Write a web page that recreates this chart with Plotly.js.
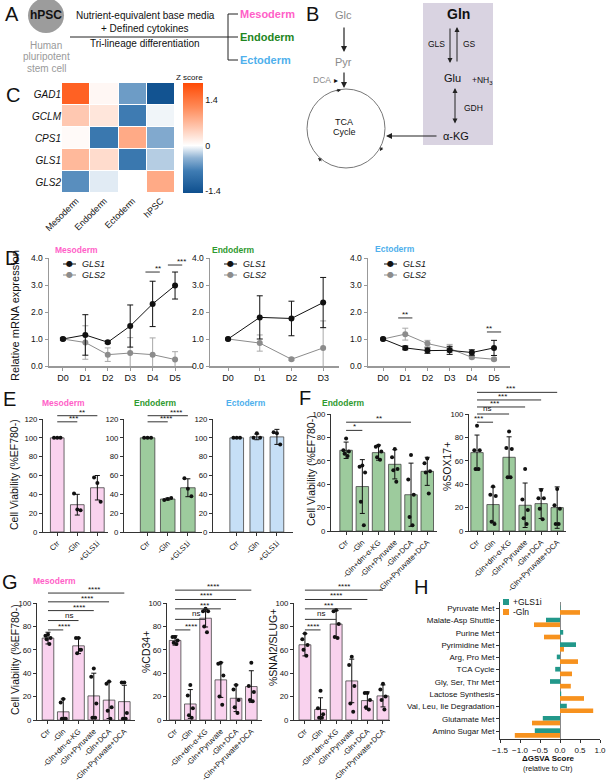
<!DOCTYPE html>
<html><head><meta charset="utf-8">
<script src="https://cdn.plot.ly/plotly-3.0.1.min.js"></script>
<style>html,body{margin:0;padding:0;background:#fff}#chart{width:609px;height:783px}</style>
</head><body><div id="chart"></div>
<script>
// ---------------- DATA ----------------
// Panel C heatmap
const hmGenes = ['GAD1','GCLM','CPS1','GLS1','GLS2'];
const hmCols = ['Mesoderm','Endoderm','Ectoderm','hPSC'];
const hmGAD1 = [1.65, 0.08, -0.55, -1.4];
const hmGCLM = [0.55, 0.25, -0.8, -0.05];
const hmCPS1 = [0.05, -0.85, 0.85, -0.45];
const hmGLS1 = [0.7, 0.35, -0.85, -0.25];
const hmGLS2 = [-0.65, -0.1, 0.0, 0.85];

// Panel D
const dDays = ['D0','D1','D2','D3','D4','D5'];
const dEndoDays = ['D0','D1','D2','D3'];
const mesoGLS1 = [1.0, 1.15, 0.88, 1.48, 2.3, 2.98];
const mesoGLS1err = [0.04, 0.75, 0.05, 0.78, 0.84, 0.5];
const mesoGLS2 = [1.0, 0.87, 0.42, 0.48, 0.42, 0.24];
const mesoGLS2err = [0.03, 0.62, 0.25, 0.57, 0.62, 0.29];
const endoGLS1 = [1.0, 1.8, 1.76, 2.35];
const endoGLS1err = [0.03, 0.8, 0.64, 0.93];
const endoGLS2 = [1.0, 0.85, 0.25, 0.67];
const endoGLS2err = [0.03, 0.3, 0.05, 1.0];
const ectoGLS1 = [1.0, 0.67, 0.57, 0.58, 0.5, 0.67];
const ectoGLS1err = [0.03, 0.07, 0.1, 0.15, 0.1, 0.28];
const ectoGLS2 = [1.0, 1.18, 0.83, 0.65, 0.32, 0.25];
const ectoGLS2err = [0.03, 0.22, 0.12, 0.15, 0.05, 0.05];

// Panel E
const eCats = ['Ctr','-Gln','+GLS1i'];
const eMesoMean = [100, 29, 47];
const eMesoSD = [0, 11, 13];
const eMesoDots = [[100,100,100],[41,24,23],[58,52,32]];
const eEndoMean = [100, 35, 47];
const eEndoSD = [0, 1, 9.5];
const eEndoDots = [[100,100,100],[34,35,36],[57,46,38]];
const eEctoMean = [100, 101, 101];
const eEctoSD = [0, 3, 8];
const eEctoDots = [[100,100,100],[100,105,100],[106,105,93]];

// Panel F
const fCats = ['Ctr','-Gln','-Gln+dm-α-KG','-Gln+Pyruvate','-Gln+DCA','-Gln+Pyruvate+DCA'];
const fViaMean = [69, 38, 67, 57, 31, 51];
const fViaSD = [7, 23, 6.5, 12.5, 27, 12];
const fViaDots = [[79,69,68,66,64],[56,55,50,25,5],[73,72,68,63,61],[70,63,53,52,42],[65,44,31,12,5],[62,58,51,50,32]];
const fSoxMean = [67, 22.6, 63, 22, 23.4, 20];
const fSoxSD = [15, 15, 17.5, 19, 12.7, 17.7];
const fSoxDots = [[90,69,69,53,53],[38,31,30,8,6],[85,71,70,46,46],[53,27,18,11,6],[35,28,28,19,10],[36,22,19,6,6]];

// Panel G
const gCats = fCats;
const gViaMean = [70, 7, 63.4, 20.6, 17, 15.7];
const gViaSD = [5, 11, 6.7, 19.4, 15.7, 14];
const gViaDots = [[73,72,70,69,65],[18,15,1,1,1],[70,70,60,57,60],[44,37,14,2,2],[33,31,11,8,1],[32,32,6,1,1]];
const gCD34Mean = [68, 13.7, 87, 34.3, 18.6, 28.6];
const gCD34SD = [4, 12.3, 7.5, 15, 11.4, 13.5];
const gCD34Dots = [[71,71,68,66,65],[30,21,10,4,2],[95,93,93,80,75],[49,48,38,20,13],[30,26,17,11,6],[49,29,24,17,16]];
const gSnaiMean = [64.3, 9, 82, 33.4, 16.6, 20.6];
const gSnaiSD = [9.5, 10, 11.5, 18.6, 7.4, 9.4];
const gSnaiDots = [[74,69,64,60,55],[25,10,5,2,2],[94,93,82,71,70],[54,47,29,14,7],[23,23,17,11,9],[31,26,20,17,9]];

// Significance brackets: [toIndex, level, label]
const sigE1 = [[1,117,'***'],[2,123.5,'**']];
const sigE2 = [[1,117,'****'],[2,123.5,'****']];
const sigF1 = [[1,86,'*'],[4,93,'**']];
const sigF2 = [[1,93,'***'],[2,100,'ns'],[3,106,'***'],[4,112,'***'],[5,118.5,'***']];
const sigG1 = [[1,77,'****'],[2,85,'ns'],[3,93.5,'****'],[4,101,'****'],[5,108.5,'****']];
const sigG2 = [[1,77,'****'],[2,86,'ns'],[3,95,'***'],[4,103,'****'],[5,111,'****']];
const sigG3 = [[1,77,'****'],[2,86,'ns'],[3,95,'***'],[4,103,'****'],[5,111,'****']];
const sigDMeso = [[4,3.48,'**'],[5,3.74,'***']];
const sigDEcto = [[1,1.78,'**'],[5,1.26,'**']];

// Panel H
const hCats = ['Pyruvate Met','Malate-Asp Shuttle','Purine Met','Pyrimidine Met','Arg, Pro Met','TCA Cycle','Gly, Ser, Thr Met','Lactose Synthesis','Val, Leu, Ile Degradation','Glutamate Met','Amino Sugar Met'];
const hGLS1i = [0.01, -0.35, 0.08, 0.4, -0.08, -0.12, -0.25, 0.03, 0.17, -0.43, -0.63];
const hGln = [0.5, -0.65, -0.4, 0.1, 0.45, 0.3, 0.27, 0.6, 0.83, -0.7, -1.13];

// ---------------- BUILD ----------------
const W = 609, H = 783;
const FONT = 'Liberation Sans, Arial, sans-serif';
const PINK_T = '#FF5FC8', GREEN_T = '#2F9A2F', BLUE_T = '#4FB0EC';
const PINK = '#F9D2EE', GREEN = '#9DCB9D', BLUE = '#C6DFF6';
const TEAL = '#22988A', ORANGE = '#F7921E';

const layout = {
  width: W, height: H, margin: {l:0, r:0, t:0, b:0},
  paper_bgcolor: '#fff', plot_bgcolor: 'rgba(0,0,0,0)',
  showlegend: false, barmode: 'group', bargap: 0.2, bargroupgap: 0,
  font: {family: FONT, size: 9, color: '#111'},
  shapes: [], annotations: []
};
const traces = [];
const AX = {};

function axes(n, xpx, ypx, xr, yr, xo, yo) {
  const s = n === 1 ? '' : String(n);
  layout['xaxis' + s] = Object.assign({domain: [xpx[0]/W, xpx[1]/W], range: xr, anchor: 'y' + s,
    showgrid: false, zeroline: false, fixedrange: true}, xo || {});
  layout['yaxis' + s] = Object.assign({domain: [1 - ypx[1]/H, 1 - ypx[0]/H], range: yr, anchor: 'x' + s,
    showgrid: false, zeroline: false, fixedrange: true}, yo || {});
  AX[n] = {xpx, ypx, xr, yr};
  return {x: 'x' + s, y: 'y' + s};
}
function P(n, xv, yv) {
  const a = AX[n];
  const px = a.xpx[0] + (xv - a.xr[0]) / (a.xr[1] - a.xr[0]) * (a.xpx[1] - a.xpx[0]);
  const py = a.ypx[1] - (yv - a.yr[0]) / (a.yr[1] - a.yr[0]) * (a.ypx[1] - a.ypx[0]);
  return {x: px / W, y: 1 - py / H};
}
function txt(x, y, t, o) {
  layout.annotations.push(Object.assign({xref: 'paper', yref: 'paper', x: x / W, y: 1 - y / H, text: t,
    showarrow: false, xanchor: 'center', yanchor: 'middle', font: {size: 9, color: '#111', family: FONT}}, o || {}));
}
function line(x0, y0, x1, y1, color, w) {
  layout.shapes.push({type: 'line', xref: 'paper', yref: 'paper', x0: x0 / W, x1: x1 / W, y0: 1 - y0 / H, y1: 1 - y1 / H,
    line: {color: color || '#222', width: w || 1}});
}
function arrow(hx, hy, ax, ay, o) {
  layout.annotations.push(Object.assign({xref: 'paper', yref: 'paper', x: hx / W, y: 1 - hy / H, ax: ax, ay: ay,
    text: '', showarrow: true, arrowhead: 2, arrowsize: 1, arrowwidth: 1.2, arrowcolor: '#222'}, o || {}));
}
function sig(n, list, base) {
  list.forEach(([to, lv, lab]) => {
    const a = P(n, base, lv), b = P(n, to, lv);
    layout.shapes.push({type: 'line', xref: 'paper', yref: 'paper', x0: a.x, x1: b.x, y0: a.y, y1: a.y,
      line: {color: '#333', width: 1}});
    layout.annotations.push({xref: 'paper', yref: 'paper', x: (a.x + b.x) / 2, y: a.y, text: lab, showarrow: false,
      yanchor: 'bottom', yshift: lab === 'ns' ? -1 : -3, font: {size: 8, color: '#111', family: FONT}});
  });
}
function sigShort(n, list) {
  list.forEach(([at, lv, lab]) => {
    const a = P(n, at - 0.32, lv), b = P(n, at + 0.32, lv);
    layout.shapes.push({type: 'line', xref: 'paper', yref: 'paper', x0: a.x, x1: b.x, y0: a.y, y1: a.y,
      line: {color: '#333', width: 1}});
    layout.annotations.push({xref: 'paper', yref: 'paper', x: (a.x + b.x) / 2, y: a.y, text: lab, showarrow: false,
      yanchor: 'bottom', yshift: -3, font: {size: 8, color: '#111', family: FONT}});
  });
}
const idx = arr => arr.map((_, i) => i);
function jit(k) {
  if (k === 3) return [-0.24, 0, 0.24];
  if (k === 4) return [-0.22, 0.22, -0.08, 0.08];
  return [0, -0.22, 0.22, -0.12, 0.12];
}

const barX = cats => ({showline: true, linecolor: '#333', linewidth: 1, ticks: 'outside', ticklen: 3, tickwidth: 1,
  tickcolor: '#333', tickangle: -45, tickvals: idx(cats), ticktext: cats, tickfont: {size: 7.6}});
const barY = step => ({showline: true, linecolor: '#333', linewidth: 1, ticks: 'outside', ticklen: 3, tickwidth: 1,
  tickcolor: '#333', tickmode: 'linear', tick0: 0, dtick: step, tickfont: {size: 7.8}});

function barChart(a, cats, mean, sd, dots, color, bw) {
  traces.push({type: 'bar', x: idx(cats), y: mean, xaxis: a.x, yaxis: a.y, width: bw,
    marker: {color: color, line: {color: '#444', width: 0.8}},
    error_y: {type: 'data', array: sd, visible: true, color: '#111', thickness: 1, width: 2.5}});
  const dx = [], dy = [];
  dots.forEach((arr, i) => { const j = jit(arr.length); arr.forEach((v, k) => { dx.push(i + j[k] * bw); dy.push(v); }); });
  traces.push({type: 'scatter', mode: 'markers', x: dx, y: dy, xaxis: a.x, yaxis: a.y, cliponaxis: false,
    marker: {size: 4, color: '#111'}});
}

// ---------- Panel A ----------
txt(12, 14, 'A', {font: {size: 20, color: '#111', family: FONT}});
layout.shapes.push({type: 'circle', xref: 'paper', yref: 'paper', x0: 28 / W, x1: 64 / W, y0: 1 - 33 / H, y1: 1 - (-2) / H,
  fillcolor: '#9c9c9c', line: {width: 0}});
txt(46, 15, '<b>hPSC</b>', {font: {size: 12, color: '#111', family: FONT}});
txt(46, 45, 'Human', {font: {size: 10, color: '#9a9a9a', family: FONT}});
txt(46, 57, 'pluripotent', {font: {size: 10, color: '#9a9a9a', family: FONT}});
txt(46, 69, 'stem cell', {font: {size: 10, color: '#9a9a9a', family: FONT}});
txt(145, 16, 'Nutrient-equivalent base media', {font: {size: 10, color: '#111', family: FONT}});
txt(145, 29, '+ Defined cytokines', {font: {size: 10, color: '#111', family: FONT}});
txt(145, 44, 'Tri-lineage differentiation', {font: {size: 10, color: '#111', family: FONT}});
line(70, 37, 238, 37, '#222', 1);
line(228, 14, 228, 60, '#222', 1);
line(228, 14, 238, 14, '#222', 1);
line(228, 60, 238, 60, '#222', 1);
txt(238, 14, '<b>Mesoderm</b>', {xanchor: 'left', font: {size: 11, color: PINK_T, family: FONT}});
txt(238, 37, '<b>Endoderm</b>', {xanchor: 'left', font: {size: 11, color: '#1E861E', family: FONT}});
txt(238, 60, '<b>Ectoderm</b>', {xanchor: 'left', font: {size: 11, color: BLUE_T, family: FONT}});

// ---------- Panel B ----------
txt(312, 14, 'B', {font: {size: 20, color: '#111', family: FONT}});
layout.shapes.push({type: 'rect', xref: 'paper', yref: 'paper', x0: 423 / W, x1: 493 / W, y0: 1 - 145 / H, y1: 1 - 3 / H,
  fillcolor: '#D9D3E1', line: {width: 0}, layer: 'below'});
txt(343, 15, 'Glc', {font: {size: 11, color: '#8a8a8a', family: FONT}});
arrow(344, 52, 0, -26);
txt(343, 62, 'Pyr', {font: {size: 11, color: '#8a8a8a', family: FONT}});
arrow(344, 88, 0, -17);
txt(322, 80, 'DCA', {font: {size: 8.5, color: '#8a8a8a', family: FONT}});
txt(336, 80, '▸', {font: {size: 8, color: '#111', family: FONT}});
layout.shapes.push({type: 'circle', xref: 'paper', yref: 'paper', x0: 307 / W, x1: 385 / W, y0: 1 - 168 / H, y1: 1 - 89 / H,
  line: {color: '#777', width: 1}});
arrow(341, 90, -6, 1, {arrowsize: 0.7, arrowwidth: 1});
arrow(380, 151, 3, -5, {arrowsize: 0.7, arrowwidth: 1});
arrow(318, 158, 5, 4, {arrowsize: 0.7, arrowwidth: 1});
txt(344, 122, 'TCA', {font: {size: 9, color: '#111', family: FONT}});
txt(344, 132, 'Cycle', {font: {size: 9, color: '#111', family: FONT}});
txt(458, 14, '<b>Gln</b>', {font: {size: 14, color: '#111', family: FONT}});
arrow(450, 63, 0, -36, {arrowwidth: 1});
arrow(457, 27, 0, 36, {arrowwidth: 1});
txt(436, 44, 'GLS', {font: {size: 8.5, color: '#111', family: FONT}});
txt(470, 44, 'GS', {font: {size: 8.5, color: '#111', family: FONT}});
txt(452, 78, 'Glu', {font: {size: 11, color: '#111', family: FONT}});
txt(482, 80, '+NH<sub>3</sub>', {font: {size: 8.5, color: '#111', family: FONT}});
arrow(455, 88, 0, 37, {arrowwidth: 1, arrowside: 'end+start', startarrowhead: 2});
txt(473, 108, 'GDH', {font: {size: 8.5, color: '#111', family: FONT}});
txt(456, 136, 'α-KG', {font: {size: 11, color: '#111', family: FONT}});
arrow(386, 136, 52, 0, {arrowwidth: 1.2});

// ---------- Panel C ----------
txt(13, 95, 'C', {font: {size: 20, color: '#111', family: FONT}});
const aC = axes(1, [62, 175], [83, 193], [-0.5, 3.5], [4.5, -0.5],
  {tickvals: idx(hmCols), ticktext: hmCols, tickangle: -45, ticks: '', tickfont: {size: 9}, showline: false},
  {tickvals: idx(hmGenes), ticktext: hmGenes.map(g => '<i>' + g + '</i>'), ticks: '', tickfont: {size: 10}, showline: false});
traces.push({type: 'heatmap', x: idx(hmCols), y: idx(hmGenes), z: [hmGAD1, hmGCLM, hmCPS1, hmGLS1, hmGLS2],
  xaxis: aC.x, yaxis: aC.y, zmin: -1.46, zmax: 1.92, xgap: 1, ygap: 1,
  colorscale: [[0, '#0E4F8E'], [0.2, '#3F7CB3'], [0.32, '#8FB3D4'], [0.432, '#FFFFFF'], [0.6, '#FFC6AE'], [0.78, '#FF8A58'], [1, '#FF4A05']],
  colorbar: {x: 183 / W, xanchor: 'left', xpad: 0, ypad: 0, y: 1 - 138 / H, yanchor: 'middle', len: 110 / H, lenmode: 'fraction',
    thickness: 20, outlinewidth: 0, tickvals: [-1.4, 0, 1.4], ticktext: ['-1.4', '0', '1.4'], ticks: '', tickfont: {size: 9}}});
txt(189, 77, 'Z score', {font: {size: 8, color: '#111', family: FONT}});

// ---------- Panel D ----------
txt(12, 258, 'D', {font: {size: 20, color: '#111', family: FONT}});
const dX = days => ({showline: true, linecolor: '#999', linewidth: 1.5, ticks: 'outside', ticklen: 3, tickcolor: '#999',
  tickvals: idx(days), ticktext: days, tickfont: {size: 9}});
const dY = {showline: true, linecolor: '#999', linewidth: 1.5, ticks: 'outside', ticklen: 3, tickcolor: '#999',
  tickvals: [0, 1, 2, 3, 4], tickformat: '.1f', tickfont: {size: 8.5}};
const aD1 = axes(2, [49, 193], [258, 366], [-0.62, 5.8], [0, 4], dX(dDays), dY);
const aD2 = axes(3, [210, 339], [258, 366], [-0.57, 3.5], [0, 4], dX(dEndoDays), dY);
const aD3 = axes(4, [368, 510], [258, 366], [-0.68, 5.72], [0, 4], dX(dDays), dY);
function dLines(a, days, g1, e1, g2, e2) {
  traces.push({type: 'scatter', mode: 'lines+markers', x: idx(days), y: g2, xaxis: a.x, yaxis: a.y, cliponaxis: false,
    line: {color: '#8c8c8c', width: 1}, marker: {size: 6, color: '#8c8c8c'},
    error_y: {type: 'data', array: e2, visible: true, color: '#a8a8a8', thickness: 1, width: 3}});
  traces.push({type: 'scatter', mode: 'lines+markers', x: idx(days), y: g1, xaxis: a.x, yaxis: a.y, cliponaxis: false,
    line: {color: '#111', width: 1}, marker: {size: 6, color: '#111'},
    error_y: {type: 'data', array: e1, visible: true, color: '#111', thickness: 1, width: 3}});
}
dLines(aD1, dDays, mesoGLS1, mesoGLS1err, mesoGLS2, mesoGLS2err);
dLines(aD2, dEndoDays, endoGLS1, endoGLS1err, endoGLS2, endoGLS2err);
dLines(aD3, dDays, ectoGLS1, ectoGLS1err, ectoGLS2, ectoGLS2err);
sigShort(2, sigDMeso);
sigShort(4, sigDEcto);
function dLegend(x0, y0) {
  [['GLS1', '#111', y0], ['GLS2', '#8c8c8c', y0 + 11]].forEach(([lab, c, y]) => {
    line(x0, y, x0 + 13, y, c, 1);
    txt(x0 + 6.5, y, '●', {font: {size: 8, color: c, family: 'DejaVu Sans'}});
    txt(x0 + 17, y, '<i>' + lab + '</i>', {xanchor: 'left', font: {size: 9, color: '#111', family: FONT}});
  });
}
dLegend(63, 264);
dLegend(224, 264);
dLegend(384, 264);
txt(76, 250, '<b>Mesoderm</b>', {font: {size: 8.5, color: PINK_T, family: FONT}});
txt(233, 250, '<b>Endoderm</b>', {font: {size: 8.5, color: GREEN_T, family: FONT}});
txt(395, 249, '<b>Ectoderm</b>', {font: {size: 8.5, color: BLUE_T, family: FONT}});
txt(15, 316, 'Relative mRNA expression', {textangle: -90, font: {size: 11, color: '#111', family: FONT}});

// ---------- Panel E ----------
txt(9, 399, 'E', {font: {size: 20, color: '#111', family: FONT}});
const aE1 = axes(5, [43, 108], [419, 532], [-0.71, 2.53], [0, 120], barX(eCats), barY(20));
const aE2 = axes(6, [124, 202], [419, 532], [-1.17, 2.7], [0, 120], barX(eCats), barY(20));
const aE3 = axes(7, [213, 293], [419, 532], [-1.18, 2.8], [0, 120], barX(eCats), barY(20));
barChart(aE1, eCats, eMesoMean, eMesoSD, eMesoDots, PINK, 0.68);
barChart(aE2, eCats, eEndoMean, eEndoSD, eEndoDots, GREEN, 0.72);
barChart(aE3, eCats, eEctoMean, eEctoSD, eEctoDots, BLUE, 0.68);
sig(5, sigE1, 0);
sig(6, sigE2, 0);
txt(63, 403, '<b>Mesoderm</b>', {font: {size: 8.5, color: PINK_T, family: FONT}});
txt(155, 403, '<b>Endoderm</b>', {font: {size: 8.5, color: GREEN_T, family: FONT}});
txt(246, 403, '<b>Ectoderm</b>', {font: {size: 8.5, color: BLUE_T, family: FONT}});
txt(14, 475, 'Cell Viability (%EF780-)', {textangle: -90, font: {size: 10.5, color: '#111', family: FONT}});

// ---------- Panel F ----------
txt(305, 398, 'F', {font: {size: 20, color: '#111', family: FONT}});
const aF1 = axes(8, [331, 437], [414, 531], [-0.93, 5.6], [0, 100], barX(fCats), barY(20));
const aF2 = axes(9, [469, 566], [414, 531], [-0.5, 5.55], [0, 100], barX(fCats), barY(20));
barChart(aF1, fCats, fViaMean, fViaSD, fViaDots, GREEN, 0.77);
barChart(aF2, fCats, fSoxMean, fSoxSD, fSoxDots, GREEN, 0.77);
sig(8, sigF1, 0);
sig(9, sigF2, 0);
txt(343, 403, '<b>Endoderm</b>', {font: {size: 8.5, color: GREEN_T, family: FONT}});
txt(311, 471, 'Cell Viability (%EF780-)', {textangle: -90, font: {size: 10.5, color: '#111', family: FONT}});
txt(447, 467, '%SOX17+', {textangle: -90, font: {size: 10.5, color: '#111', family: FONT}});

// ---------- Panel G ----------
txt(10, 582, 'G', {font: {size: 20, color: '#111', family: FONT}});
const aG1 = axes(10, [37, 135], [603, 720], [-0.72, 5.7], [0, 100], barX(gCats), barY(20));
const aG2 = axes(11, [167, 262], [603, 720], [-0.53, 5.7], [0, 100], barX(gCats), barY(20));
const aG3 = axes(12, [294, 390], [603, 720], [-0.7, 5.45], [0, 100], barX(gCats), barY(20));
barChart(aG1, gCats, gViaMean, gViaSD, gViaDots, PINK, 0.76);
barChart(aG2, gCats, gCD34Mean, gCD34SD, gCD34Dots, PINK, 0.76);
barChart(aG3, gCats, gSnaiMean, gSnaiSD, gSnaiDots, PINK, 0.76);
sig(10, sigG1, 0);
sig(11, sigG2, 0);
sig(12, sigG3, 0);
txt(54, 581, '<b>Mesoderm</b>', {font: {size: 8.5, color: PINK_T, family: FONT}});
txt(15, 660, 'Cell Viability (%EF780-)', {textangle: -90, font: {size: 10.5, color: '#111', family: FONT}});
txt(146, 652, '%CD34+', {textangle: -90, font: {size: 10.5, color: '#111', family: FONT}});
txt(273, 648, '%SNAI2/SLUG+', {textangle: -90, font: {size: 10.5, color: '#111', family: FONT}});

// ---------- Panel H ----------
txt(421, 587, 'H', {font: {size: 20, color: '#111', family: FONT}});
const aH = axes(13, [500, 600], [602, 739], [-1.5, 1.0], [10.65, -0.5],
  {showline: true, linecolor: '#333', linewidth: 1, ticks: 'outside', ticklen: 3, tickcolor: '#333',
    tickvals: [-1.5, -1, -0.5, 0, 0.5, 1], tickformat: '.1f', tickfont: {size: 8}, zeroline: true, zerolinecolor: '#888', zerolinewidth: 1},
  {showline: true, linecolor: '#333', linewidth: 1, ticks: 'outside', ticklen: 3, tickcolor: '#333',
    tickvals: idx(hCats), ticktext: hCats, tickfont: {size: 8}});
traces.push({type: 'bar', orientation: 'h', y: idx(hCats), x: hGLS1i, xaxis: aH.x, yaxis: aH.y, width: 0.38, offset: -0.22,
  marker: {color: TEAL, line: {width: 0}}});
traces.push({type: 'bar', orientation: 'h', y: idx(hCats), x: hGln, xaxis: aH.x, yaxis: aH.y, width: 0.38, offset: 0.16,
  marker: {color: ORANGE, line: {width: 0}}});
layout.shapes.push({type: 'rect', xref: 'paper', yref: 'paper', x0: 503 / W, x1: 509 / W, y0: 1 - 605 / H, y1: 1 - 599 / H,
  fillcolor: TEAL, line: {width: 0}});
layout.shapes.push({type: 'rect', xref: 'paper', yref: 'paper', x0: 503 / W, x1: 509 / W, y0: 1 - 615 / H, y1: 1 - 609 / H,
  fillcolor: ORANGE, line: {width: 0}});
txt(511, 602, '+GLS1i', {xanchor: 'left', font: {size: 8.5, color: '#111', family: FONT}});
txt(511, 612, '-Gln', {xanchor: 'left', font: {size: 8.5, color: '#111', family: FONT}});
txt(548, 758, '<b>ΔGSVA Score</b>', {font: {size: 8, color: '#111', family: FONT}});
txt(548, 768, '(relative to Ctr)', {font: {size: 7.5, color: '#111', family: FONT}});

Plotly.newPlot('chart', traces, layout, {displayModeBar: false, staticPlot: true});
</script>
</body></html>
